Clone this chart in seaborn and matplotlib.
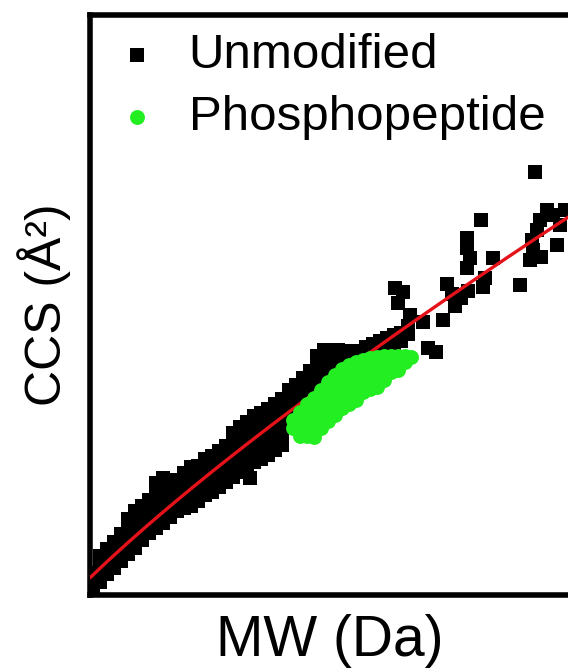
import numpy as np
import pandas as pd
import matplotlib
matplotlib.use('Agg')
import matplotlib.pyplot as plt
import seaborn as sns

sns.set_style('white')
plt.rcParams['font.family'] = ['Liberation Sans', 'DejaVu Sans']
plt.rcParams['text.color'] = 'black'
plt.rcParams['axes.labelcolor'] = 'black'

# power-law fit drawn in red: CCS = c + a * MW^b
fit_a = 0.801
fit_b = 0.8
fit_c = 70.5

x_min, x_max = 400, 2795
y_min, y_max = 150, 730

# unmodified peptides (black squares)
unmod_mw = [
    415, 415, 415,
    450, 450, 450, 450,
    485, 485, 485, 485,
    520, 520, 520, 520,
    555, 555, 555, 555,
    590, 590, 590, 590, 590,
    625, 625, 625, 625, 625,
    660, 660, 660, 660, 660,
    695, 695, 695, 695, 695,
    730, 730, 730, 730, 730, 730,
    765, 765, 765, 765, 765, 765,
    800, 800, 800, 800, 800,
    835, 835, 835, 835, 835,
    870, 870, 870, 870, 870,
    905, 905, 905, 905, 905, 905,
    940, 940, 940, 940, 940,
    975, 975, 975, 975, 975,
    1010, 1010, 1010, 1010, 1010,
    1045, 1045, 1045, 1045, 1045,
    1080, 1080, 1080, 1080, 1080,
    1115, 1115, 1115, 1115, 1115, 1115,
    1150, 1150, 1150, 1150, 1150, 1150,
    1185, 1185, 1185, 1185, 1185, 1185,
    1200,
    1220, 1220, 1220, 1220, 1220, 1220,
    1255, 1255, 1255, 1255, 1255, 1255,
    1290, 1290, 1290, 1290, 1290, 1290,
    1325, 1325, 1325, 1325, 1325, 1325,
    1360, 1360, 1360, 1360, 1360, 1360,
    1395, 1395, 1395, 1395, 1395,
    1430, 1430, 1430, 1430,
    1465, 1465, 1465, 1465,
    1500, 1500, 1500, 1500,
    1535, 1535, 1535, 1535, 1535,
    1570, 1570, 1570, 1570, 1570,
    1605, 1605, 1605, 1605,
    1640, 1640, 1640, 1640,
    1675, 1675, 1675,
    1710, 1710, 1745, 1745, 1780, 1780, 1815, 1815,
    1850, 1850, 1885, 1885, 1920, 1920, 1955, 1955, 1990, 1990,
    1925, 1965, 1940, 2000, 2065, 2090, 2130, 2165, 2185, 2210,
    2225, 2255, 2290, 2285, 2300, 2285, 2285, 2355, 2415, 2365,
    2375, 2550, 2625, 2685, 2650, 2635, 2610, 2615, 2600, 2655,
    2735, 2775, 2715, 2750,
]
unmod_ccs = [
    154, 163, 172,
    163, 172, 181, 189,
    171, 180, 189, 196,
    177, 186, 195, 203,
    184, 193, 202, 211,
    191, 200, 210, 220, 226,
    197, 206, 216, 225, 234,
    205, 214, 223, 232, 239,
    212, 221, 230, 239, 245,
    217, 226, 236, 246, 255, 262,
    222, 231, 241, 251, 261, 267,
    228, 237, 246, 255, 263,
    234, 243, 252, 261, 265,
    237, 246, 255, 264, 272,
    239, 248, 257, 266, 275, 278,
    244, 253, 262, 271, 279,
    250, 259, 268, 277, 286,
    253, 262, 271, 280, 289,
    258, 267, 276, 285, 294,
    263, 272, 281, 290, 299,
    268, 277, 286, 295, 304, 312,
    273, 282, 291, 300, 309, 318,
    277, 286, 295, 304, 313, 323,
    267,
    283, 292, 301, 310, 319, 329,
    286, 295, 304, 314, 323, 332,
    290, 299, 308, 317, 326, 336,
    295, 304, 313, 323, 332, 341,
    300, 309, 318, 328, 337, 346,
    323, 333, 342, 351, 355,
    336, 345, 354, 360,
    342, 351, 360, 367,
    349, 358, 367, 374,
    356, 365, 374, 383, 389,
    362, 371, 380, 389, 395,
    368, 377, 386, 392,
    374, 383, 391, 395,
    380, 388, 394,
    385, 391, 388, 394, 392, 398, 395, 401,
    398, 404, 400, 407, 402, 410, 404, 412, 411, 419,
    457, 453, 442, 430, 423, 397, 393, 425, 461, 451,
    439, 447, 454, 477, 487, 497, 507, 525, 487, 458,
    467, 460, 573, 535, 525, 515, 505, 495, 485, 488,
    500, 535, 530, 520,
]

# phosphopeptides (green circles)
phos_mw = [
    1415, 1415,
    1450, 1450, 1450, 1450,
    1485, 1485, 1485, 1485, 1485,
    1520, 1520, 1520, 1520, 1520, 1520,
    1555, 1555, 1555, 1555, 1555, 1555,
    1590, 1590, 1590, 1590, 1590, 1590,
    1625, 1625, 1625, 1625, 1625, 1625,
    1660, 1660, 1660, 1660, 1660, 1660,
    1695, 1695, 1695, 1695, 1695, 1695,
    1730, 1730, 1730, 1730, 1730, 1730,
    1765, 1765, 1765, 1765, 1765,
    1800, 1800, 1800, 1800, 1800,
    1835, 1835, 1835, 1835, 1835,
    1870, 1870, 1870, 1870,
    1905, 1905, 1905,
    1940, 1940, 1940,
    1975, 1975,
    2005,
]
phos_ccs = [
    325, 317,
    333, 325, 317, 309,
    341, 333, 325, 317, 309,
    347, 339, 331, 323, 315, 308,
    355, 347, 339, 331, 323, 317,
    363, 355, 347, 339, 331, 324,
    370, 362, 354, 346, 338, 330,
    376, 368, 360, 352, 344, 337,
    380, 372, 364, 356, 348, 341,
    383, 375, 367, 359, 351, 345,
    385, 377, 369, 361, 353,
    387, 379, 371, 363, 356,
    388, 380, 372, 364, 358,
    389, 381, 373, 365,
    389, 381, 373,
    389, 382, 375,
    389, 383,
    388,
]

df_unmod = pd.DataFrame({'MW': unmod_mw, 'CCS': unmod_ccs})
df_phos = pd.DataFrame({'MW': phos_mw, 'CCS': phos_ccs})

fig = plt.figure(figsize=(5.68, 6.71), dpi=100)
ax = fig.add_axes([0.1585, 0.1133, 0.8433, 0.8644])

sns.scatterplot(data=df_unmod, x='MW', y='CCS', marker='s', s=90, color='black',
                linewidth=0, label='Unmodified', ax=ax, zorder=2)
mw_line = np.linspace(x_min, x_max, 200)
ax.plot(mw_line, fit_c + fit_a * mw_line ** fit_b, color='#e6121a', lw=2.4, zorder=3)
sns.scatterplot(data=df_phos, x='MW', y='CCS', marker='o', s=115, color='#22ee22',
                linewidth=0, label='Phosphopeptide', ax=ax, zorder=4)

ax.set_xlim(x_min, x_max)
ax.set_ylim(y_min, y_max)
ax.set_xticks([])
ax.set_yticks([])
for sp in ax.spines.values():
    sp.set_linewidth(4)
    sp.set_color('black')

ax.set_xlabel('MW (Da)', fontsize=41, labelpad=14)
ax.set_ylabel('CCS (Å²)', fontsize=36, labelpad=14)

ax.legend(loc='upper left', bbox_to_anchor=(-0.005, 1.012), frameon=False, fontsize=35.5,
          handletextpad=0.55, labelspacing=0.36, borderaxespad=0.1, handlelength=1.0)

fig.savefig('out.png', dpi=100)
